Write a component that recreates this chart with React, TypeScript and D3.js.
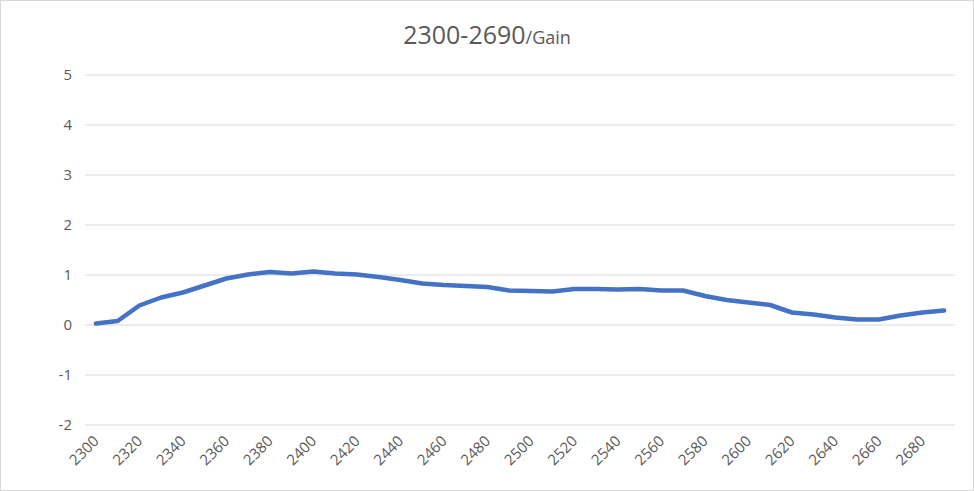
import React, { useEffect, useRef } from "react";
import * as d3 from "d3";

const categories: number[] = [
  2300, 2310, 2320, 2330, 2340, 2350, 2360, 2370, 2380, 2390,
  2400, 2410, 2420, 2430, 2440, 2450, 2460, 2470, 2480, 2490,
  2500, 2510, 2520, 2530, 2540, 2550, 2560, 2570, 2580, 2590,
  2600, 2610, 2620, 2630, 2640, 2650, 2660, 2670, 2680, 2690,
];
const gain: number[] = [
  0.03, 0.08, 0.39, 0.55, 0.65, 0.79, 0.93, 1.01, 1.06, 1.03,
  1.07, 1.03, 1.01, 0.96, 0.9, 0.83, 0.8, 0.78, 0.76, 0.69,
  0.68, 0.67, 0.72, 0.72, 0.71, 0.72, 0.69, 0.69, 0.58, 0.5,
  0.45, 0.4, 0.25, 0.21, 0.15, 0.11, 0.11, 0.19, 0.25, 0.29,
];
const yTicks: number[] = [-2, -1, 0, 1, 2, 3, 4, 5];
const titleMain = "2300-2690";
const titleSub = "/Gain";

const W = 974;
const H = 491;

export default function App() {
  const ref = useRef<SVGSVGElement>(null);
  useEffect(() => {
    document.body.style.margin = "0";
    const svg = d3.select(ref.current);
    svg.selectAll("*").remove();
    const left = 85, right = 955, top = 75, bottom = 425;
    const x = d3.scaleBand<number>().domain(categories).range([left, right]);
    const y = d3.scaleLinear().domain([-2, 5]).range([bottom, top]);
    const font = "'Segoe UI', 'Open Sans', sans-serif";

    svg.append("rect").attr("x", 0.5).attr("y", 0.5).attr("width", W - 1).attr("height", H - 1)
      .attr("fill", "#fff").attr("stroke", "#d9d9d9");

    const t = svg.append("text").attr("x", W / 2).attr("y", 44).attr("text-anchor", "middle")
      .attr("fill", "#595959").attr("font-family", font);
    t.append("tspan").attr("font-size", 25).text(titleMain);
    t.append("tspan").attr("font-size", 18).text(titleSub);

    svg.append("g").selectAll("line").data(yTicks).join("line")
      .attr("x1", left).attr("x2", right)
      .attr("y1", (d) => y(d)).attr("y2", (d) => y(d))
      .attr("stroke", "#d9d9d9").attr("stroke-width", 1);

    svg.append("g").selectAll("text").data(yTicks).join("text")
      .attr("x", 72).attr("y", (d) => y(d)).attr("dy", "0.35em")
      .attr("text-anchor", "end").attr("fill", "#595959")
      .attr("font-family", font).attr("font-size", 15).text((d) => String(d));

    const xLabels = categories.filter((_, i) => i % 2 === 0);
    svg.append("g").selectAll("text").data(xLabels).join("text")
      .attr("transform", (d) => `translate(${(x(d) as number) + x.bandwidth() / 2 + 4},${442}) rotate(-45)`)
      .attr("text-anchor", "end").attr("fill", "#595959")
      .attr("font-family", font).attr("font-size", 15).text((d) => String(d));

    const line = d3.line<number>()
      .x((_, i) => (x(categories[i]) as number) + x.bandwidth() / 2)
      .y((d) => y(d));
    svg.append("path").datum(gain).attr("d", line).attr("fill", "none")
      .attr("stroke", "#4472C4").attr("stroke-width", 4.5)
      .attr("stroke-linejoin", "round").attr("stroke-linecap", "round");
  }, []);
  return (
    <div style={{ position: "absolute", left: 0, top: 0 }}>
      <svg ref={ref} width={W} height={H} style={{ display: "block" }} />
    </div>
  );
}
